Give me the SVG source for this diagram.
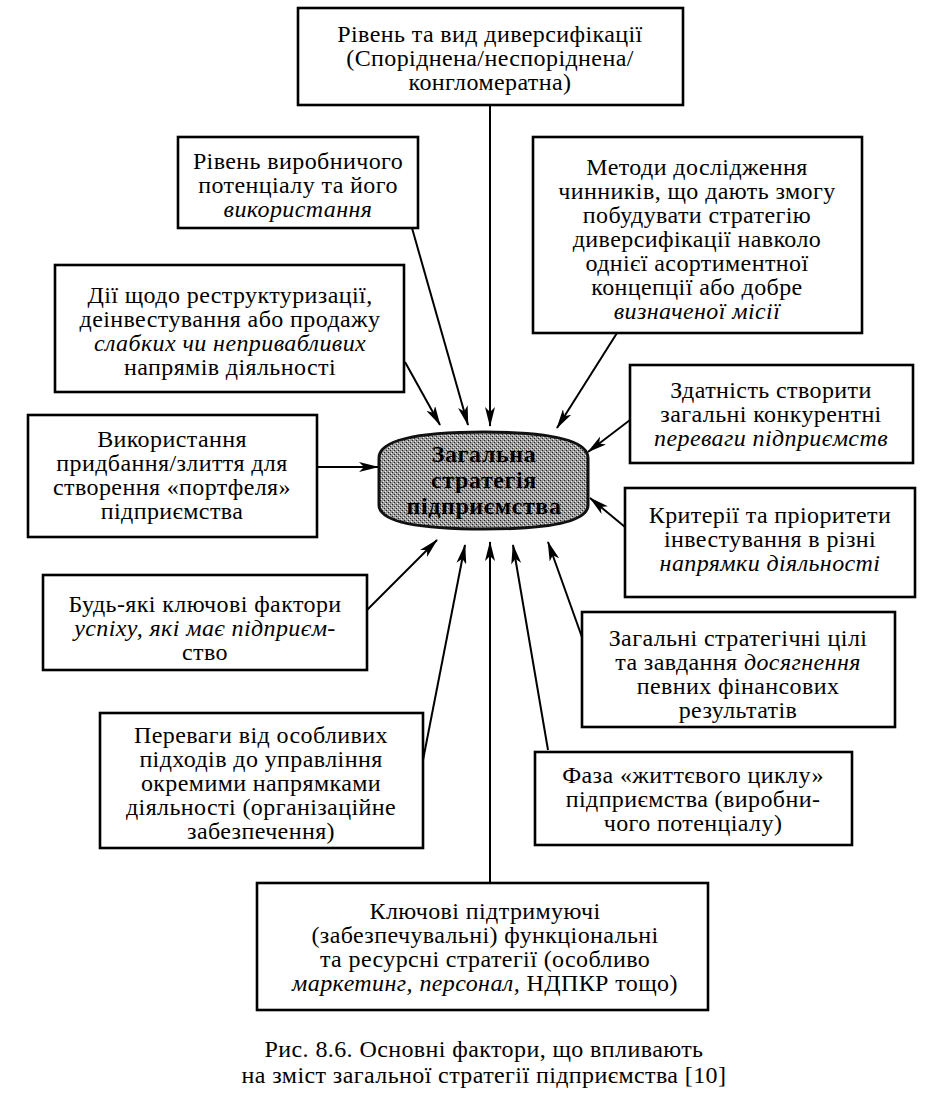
<svg xmlns="http://www.w3.org/2000/svg" width="941" height="1096" viewBox="0 0 941 1096">
<defs>
<style>
.box{fill:#fff;stroke:#000;stroke-width:2.6}
.t{font-family:'Liberation Serif','DejaVu Serif',serif;font-size:24px;letter-spacing:0.4px;fill:#000;text-anchor:middle}
.i{font-style:italic}
.c{font-family:'Liberation Serif','DejaVu Serif',serif;font-size:24px;letter-spacing:0.6px;font-weight:bold;fill:#000;text-anchor:middle}
.ln{stroke:#000;stroke-width:2;fill:none;marker-end:url(#ah)}
</style>
<marker id="ah" viewBox="0 0 20 10" refX="19" refY="5" markerWidth="20" markerHeight="10" markerUnits="userSpaceOnUse" orient="auto">
<path d="M0,0 L20,5 L0,10 L5,5 Z" fill="#000"/>
</marker>
<pattern id="ht" width="4" height="4" patternUnits="userSpaceOnUse">
<rect width="4" height="4" fill="#9a9a9a"/>
<rect x="0" y="0" width="1" height="1" fill="#222"/>
<rect x="2" y="2" width="1" height="1" fill="#222"/>
<rect x="1" y="3" width="1" height="1" fill="#eee"/>
<rect x="3" y="1" width="1" height="1" fill="#eee"/>
</pattern>
</defs>
<rect width="941" height="1096" fill="#fff"/>

<g id="connectors">
<line class="ln" x1="490" y1="105" x2="490" y2="426"/>
<line class="ln" x1="412" y1="228" x2="468" y2="425"/>
<line class="ln" x1="405" y1="362" x2="440" y2="425"/>
<line class="ln" x1="617" y1="333" x2="557" y2="428"/>
<line class="ln" x1="630" y1="420" x2="588" y2="452"/>
<line class="ln" x1="625" y1="527" x2="590" y2="498"/>
<line class="ln" x1="317" y1="467" x2="378" y2="467"/>
<line class="ln" x1="367" y1="610" x2="437" y2="540"/>
<line class="ln" x1="423" y1="760" x2="465" y2="545"/>
<line class="ln" x1="490" y1="883" x2="490" y2="542"/>
<line class="ln" x1="548" y1="750" x2="513" y2="545"/>
<line class="ln" x1="583" y1="640" x2="548" y2="542"/>
</g>

<g id="center">
<path d="M379,458 Q379,432 484,432 Q588,432 588,458 L588,505 Q588,529 484,529 Q379,529 379,505 Z" fill="url(#ht)" stroke="#111" stroke-width="3"/>
<text class="c" x="484" y="462">Загальна</text>
<text class="c" x="484" y="488">стратегія</text>
<text class="c" x="484" y="514">підприємства</text>
</g>

<g id="n1">
<rect class="box" x="298" y="8" width="385" height="97"/>
<text class="t" x="490" y="42">Рівень та вид диверсифікації</text>
<text class="t" x="490" y="66">(Споріднена/неспоріднена/</text>
<text class="t" x="490" y="90">конгломератна)</text>
</g>

<g id="n2">
<rect class="box" x="178" y="137" width="240" height="91"/>
<text class="t" x="298" y="169">Рівень виробничого</text>
<text class="t" x="298" y="193">потенціалу та його</text>
<text class="t i" x="298" y="217">використання</text>
</g>

<g id="n3">
<rect class="box" x="533" y="137" width="329" height="196"/>
<text class="t" x="697" y="175">Методи дослідження</text>
<text class="t" x="697" y="199">чинників, що дають змогу</text>
<text class="t" x="697" y="223">побудувати стратегію</text>
<text class="t" x="697" y="247">диверсифікації навколо</text>
<text class="t" x="697" y="271">однієї асортиментної</text>
<text class="t" x="697" y="295">концепції або добре</text>
<text class="t i" x="697" y="319">визначеної місії</text>
</g>

<g id="n4">
<rect class="box" x="55" y="265" width="349" height="127"/>
<text class="t" x="230" y="303">Дії щодо реструктуризації,</text>
<text class="t" x="230" y="327">деінвестування або продажу</text>
<text class="t i" x="230" y="351">слабких чи непривабливих</text>
<text class="t" x="230" y="375">напрямів діяльності</text>
</g>

<g id="n5">
<rect class="box" x="28" y="415" width="289" height="122"/>
<text class="t" x="172" y="447">Використання</text>
<text class="t" x="172" y="471">придбання/злиття для</text>
<text class="t" x="172" y="495">створення «портфеля»</text>
<text class="t" x="172" y="519">підприємства</text>
</g>

<g id="n6">
<rect class="box" x="43" y="575" width="324" height="95"/>
<text class="t" x="205" y="612">Будь-які ключові фактори</text>
<text class="t i" x="205" y="636">успіху, які має підприєм-</text>
<text class="t" x="205" y="660">ство</text>
</g>

<g id="n7">
<rect class="box" x="100" y="713" width="323" height="135"/>
<text class="t" x="261" y="743">Переваги від особливих</text>
<text class="t" x="261" y="767">підходів до управління</text>
<text class="t" x="261" y="791">окремими напрямками</text>
<text class="t" x="261" y="815">діяльності (організаційне</text>
<text class="t" x="261" y="839">забезпечення)</text>
</g>

<g id="n8">
<rect class="box" x="257" y="883" width="451" height="127"/>
<text class="t" x="485" y="919">Ключові підтримуючі</text>
<text class="t" x="485" y="943">(забезпечувальні) функціональні</text>
<text class="t" x="485" y="967">та ресурсні стратегії (особливо</text>
<text class="t" x="485" y="991"><tspan class="i">маркетинг, персонал,</tspan> НДПКР тощо)</text>
</g>

<g id="n9">
<rect class="box" x="535" y="752" width="317" height="93"/>
<text class="t" x="693" y="783">Фаза «життєвого циклу»</text>
<text class="t" x="693" y="807">підприємства (виробни-</text>
<text class="t" x="693" y="831">чого потенціалу)</text>
</g>

<g id="n10">
<rect class="box" x="582" y="612" width="313" height="115"/>
<text class="t" x="738" y="646">Загальні стратегічні цілі</text>
<text class="t" x="738" y="670">та завдання <tspan class="i">досягнення</tspan></text>
<text class="t" x="738" y="694">певних фінансових</text>
<text class="t" x="738" y="718">результатів</text>
</g>

<g id="n11">
<rect class="box" x="625" y="488" width="290" height="109"/>
<text class="t" x="770" y="523">Критерії та пріоритети</text>
<text class="t" x="770" y="547">інвестування в різні</text>
<text class="t i" x="770" y="571">напрямки діяльності</text>
</g>

<g id="n12">
<rect class="box" x="630" y="365" width="283" height="98"/>
<text class="t" x="771" y="398">Здатність створити</text>
<text class="t" x="771" y="422">загальні конкурентні</text>
<text class="t i" x="771" y="446">переваги підприємств</text>
</g>

<g id="caption">
<text class="t" x="484" y="1057">Рис. 8.6. Основні фактори, що впливають</text>
<text class="t" x="484" y="1083">на зміст загальної стратегії підприємства [10]</text>
</g>
</svg>
